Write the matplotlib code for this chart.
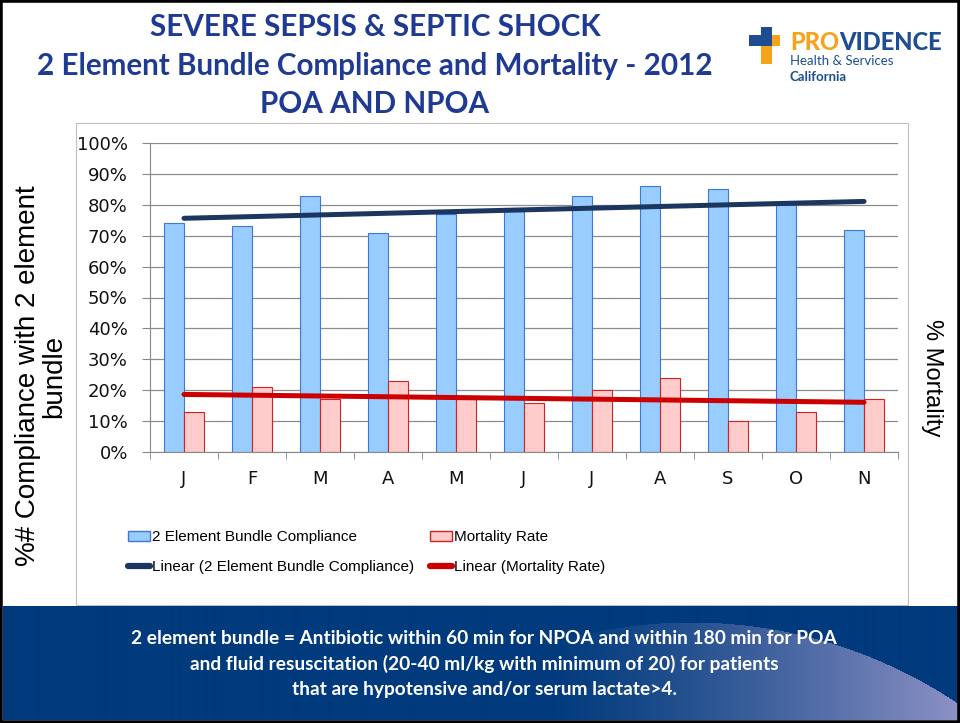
import matplotlib
matplotlib.use('Agg')
import matplotlib.pyplot as plt
import numpy as np
from matplotlib.patches import Rectangle, Patch
from matplotlib.lines import Line2D
from matplotlib.ticker import PercentFormatter

# data
months = ['J', 'F', 'M', 'A', 'M', 'J', 'J', 'A', 'S', 'O', 'N']
compliance = [74, 73, 83, 71, 77, 78, 83, 86, 85, 80, 72]   # %
mortality = [13, 21, 17, 23, 17, 16, 20, 24, 10, 13, 17]    # %

title_lines = ['SEVERE SEPSIS & SEPTIC SHOCK',
               '2 Element Bundle Compliance and Mortality - 2012',
               'POA AND NPOA']
note_lines = ['2 element bundle = Antibiotic within 60 min for NPOA and within 180 min for POA',
              'and fluid resuscitation (20-40 ml/kg with minimum of 20) for patients',
              'that are hypotensive and/or serum lactate>4.']

W, H = 960, 723


def fx(px):
    return px / W


def fy(py):
    return 1 - py / H


fig = plt.figure(figsize=(9.6, 7.23), dpi=100)
fig.patch.set_facecolor('white')

# bottom navy band with the lighter swoosh on the right
band = fig.add_axes([fx(3), fy(720), fx(954), (720 - 606) / H])
xs, ys = np.meshgrid(np.arange(3, 957), np.arange(606, 720))
navy = np.array([1, 59, 125]) / 255
lav = np.array([142, 146, 198]) / 255
inside = (xs - 690) ** 2 + (ys - 1100) ** 2 < 478 ** 2
t = np.clip((xs - 540) / 420, 0, 1) ** 1.3 * inside
img = navy[None, None, :] * (1 - t[..., None]) + lav[None, None, :] * t[..., None]
band.imshow(img, aspect='auto', extent=(3, 957, 720, 606))
band.axis('off')

# chart frame
fig.add_artist(Rectangle((fx(76), fy(605)), (908 - 76) / W, (605 - 123) / H,
                         transform=fig.transFigure, fc='white', ec='#BFBFBF', lw=0.8, zorder=0))

# titles
title_c = '#1F3A93'
for i, line in enumerate(title_lines):
    fig.text(fx(375), fy(27 + 38.5 * i), line, ha='center', va='center',
             family='Lato', weight='bold', fontsize=21.3, color=title_c)

for i, line in enumerate(note_lines):
    fig.text(fx(484), fy(638 + 26 * i), line, ha='center', va='center',
             family='Lato', weight='bold', fontsize=13.8, color='white')

# logo
logo_navy = '#1E4D92'
logo_orange = '#F5A31A'
fig.add_artist(Rectangle((fx(761), fy(64)), 11 / W, 37 / H, transform=fig.transFigure,
                         fc=logo_orange, ec='none'))
fig.add_artist(Rectangle((fx(761), fy(46)), 11 / W, 19 / H, transform=fig.transFigure,
                         fc=logo_navy, ec='none'))
fig.add_artist(Rectangle((fx(749), fy(46)), 31 / W, 11 / H, transform=fig.transFigure,
                         fc=logo_navy, ec='none'))
fig.add_artist(Rectangle((fx(772), fy(46)), 8 / W, 11 / H, transform=fig.transFigure,
                         fc=logo_orange, ec='none'))
t1 = fig.text(fx(790), fy(43), 'PRO', ha='left', va='center', family='Lato',
              weight='black', fontsize=17, color=logo_orange)
fig.canvas.draw()
bb = t1.get_window_extent()
fig.text(bb.x1 / W, fy(43), 'VIDENCE', ha='left', va='center', family='Lato',
         weight='black', fontsize=17, color=logo_navy)
fig.text(fx(790), fy(61), 'Health & Services', ha='left', va='center', family='Lato',
         fontsize=9.5, color=logo_navy)
fig.text(fx(790), fy(77), 'California', ha='left', va='center', family='Lato',
         weight='bold', fontsize=9.5, color=logo_navy)

# main chart
ax = fig.add_axes([fx(150), fy(452), 748 / W, 309 / H])
x = np.arange(len(months))
w = 0.29
comp = np.array(compliance) / 100
mort = np.array(mortality) / 100
ax.bar(x - w / 2, comp, w, color='#99CCFF', edgecolor='#3C78D8', lw=0.8, zorder=2)
ax.bar(x + w / 2, mort, w, color='#FFCCCC', edgecolor='#D42020', lw=0.8, zorder=2)

# linear trendlines
fit_c = np.polyval(np.polyfit(x, comp, 1), x)
fit_m = np.polyval(np.polyfit(x, mort, 1), x)
ax.plot(x, fit_c, color='#1B365F', lw=3.6, solid_capstyle='round', zorder=3)
ax.plot(x, fit_m, color='#CC0000', lw=3.6, solid_capstyle='round', zorder=3)

ax.set_xlim(-0.5, len(months) - 0.5)
ax.set_ylim(0, 1)
ax.set_yticks(np.arange(0, 1.01, 0.1))
ax.yaxis.set_major_formatter(PercentFormatter(1.0, decimals=0))
ax.set_xticks(x)
ax.set_xticklabels(months)
ax.set_xticks(np.arange(-0.5, len(months), 1), minor=True)
ax.tick_params(axis='x', which='major', length=0, pad=13, labelsize=13, labelcolor='#111111')
ax.tick_params(axis='x', which='minor', length=5, color='#888888', direction='out')
ax.tick_params(axis='y', length=6, color='#888888', pad=10, labelsize=13, labelcolor='#111111')
for lbl in ax.get_xticklabels() + ax.get_yticklabels():
    lbl.set_family('DejaVu Sans')
ax.grid(axis='y', color='#8C8C8C', lw=0.9, zorder=0)
ax.set_axisbelow(True)
for s in ['top', 'right']:
    ax.spines[s].set_visible(False)
for s in ['left', 'bottom']:
    ax.spines[s].set_color('#888888')

fig.text(fx(41), fy(376), '%# Compliance with 2 element\nbundle', rotation=90,
         ha='center', va='center', family='Liberation Sans', fontsize=20,
         linespacing=1.0, color='black')
fig.text(fx(932), fy(378), '% Mortality', rotation=-90, ha='center', va='center',
         family='Liberation Sans', fontsize=17, color='black')

handles = [Patch(fc='#99CCFF', ec='#3C78D8'),
           Line2D([], [], color='#1B365F', lw=4.5, solid_capstyle='round'),
           Patch(fc='#FFCCCC', ec='#D42020'),
           Line2D([], [], color='#CC0000', lw=4.5, solid_capstyle='round')]
labels = ['2 Element Bundle Compliance', 'Linear (2 Element Bundle Compliance)',
          'Mortality Rate', 'Linear (Mortality Rate)']
fig.legend(handles, labels, ncol=2, loc='upper left', bbox_to_anchor=(fx(128), fy(530)),
           frameon=False, prop={'family': 'Liberation Sans', 'size': 11},
           handlelength=1.45, handleheight=0.65, handletextpad=0.12,
           columnspacing=1.05, labelspacing=1.05, borderaxespad=0, borderpad=0)

# slide border
fig.add_artist(Rectangle((0, 0), 1, 1, transform=fig.transFigure, fill=False,
                         ec='black', lw=4, zorder=10))

fig.savefig('out.png', dpi=100)
